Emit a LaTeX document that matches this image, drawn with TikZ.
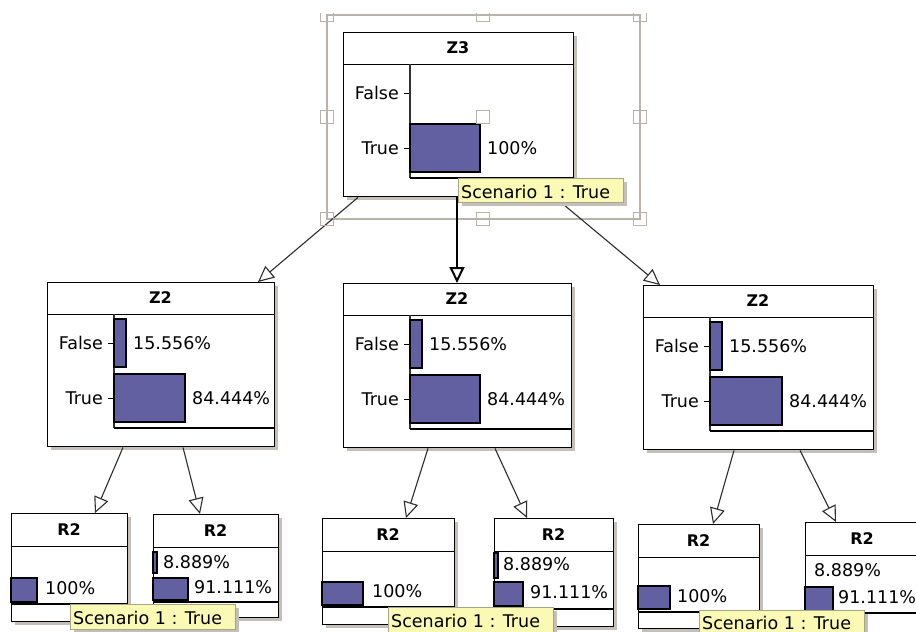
\documentclass[tikz,border=0pt]{standalone}
\usepackage{fontspec}
\setmainfont{DejaVu Sans}
\usetikzlibrary{arrows.meta,calc}

\definecolor{barc}{RGB}{98,96,160}
\definecolor{shadowc}{RGB}{196,191,185}
\definecolor{tipfill}{RGB}{250,250,180}
\definecolor{tipdraw}{RGB}{165,165,135}
\definecolor{selc}{RGB}{185,178,170}
\definecolor{linkc}{RGB}{45,45,45}

\tikzset{
  box/.style={draw=black, fill=white, line width=1.4pt, inner sep=0pt},
  ttl/.style={inner sep=0pt, font=\fontsize{16}{18}\selectfont\bfseries},
  lbl/.style={inner sep=0pt, font=\fontsize{17.5}{20}\selectfont},
  sep/.style={draw=black, line width=1pt},
  axisline/.style={draw=black!80, line width=1.1pt},
  baseline/.style={draw=black, line width=1.8pt},
  tickmark/.style={draw=black, line width=1pt},
  bar/.style={fill=barc, draw=black, line width=1.3pt},
  link/.style={draw=linkc, line width=1.1pt,
    -{Triangle[fill=white, length=16pt, width=15pt]}},
  tipst/.style={draw=tipdraw, fill=tipfill, line width=0.8pt, inner sep=0pt,
    minimum width=165pt},
  handle/.style={draw=selc, line width=1pt},
}

% belief node with a title bar and two state bars
% #1 name, #2 x, #3 y, #4 width, #5 title, #6 false bar, #7 true bar,
% #8 false value, #9 true value
\newcommand\znode[9]{%
  \begin{scope}[shift={(#2,#3)}]
    \fill[shadowc] (4,4) rectangle (#4+4,168);
    \node[box, minimum width=#4, minimum height=164, anchor=north west] (#1) at (0,0) {};
    \node[ttl] (#1-name) at (#4/2,16) {#5};
    \draw[sep] (0,32) -- (#4,32);
    \draw[axisline] (67,32) -- (67,146);
    \draw[baseline] (67,146) -- (#4,146);
    \draw[tickmark] (61,61) -- (65.5,61);
    \draw[tickmark] (61,116) -- (65.5,116);
    \node[lbl, anchor=base east] (#1-f) at (56,67) {False};
    \node[lbl, anchor=base east] (#1-t) at (56,122) {True};
    \ifnum#6>0
      \draw[bar] (67,37) rectangle (67+#6,85);
      \node[lbl, anchor=base west] (#1-fp) at (74+#6,67) {#8};
    \fi
    \draw[bar] (67,92) rectangle (67+#7,140);
    \node[lbl, anchor=base west] (#1-tp) at (74+#7,122) {#9};
  \end{scope}}

% narrow R2 node: #1 name, #2 x, #3 y, #4 width, #5 height, #6 bar floor
\newcommand\rnode[6]{%
  \begin{scope}[shift={(#2,#3)}]
    \fill[shadowc] (4,4) rectangle (#4+4,#5+4);
    \node[box, minimum width=#4, minimum height=#5, anchor=north west] (#1) at (0,0) {};
    \node[ttl] (#1-name) at (#4/2,16.5) {R2};
    \draw[sep] (0,33) -- (#4,33);
    \draw[baseline] (0,#6) -- (#4,#6);
  \end{scope}}

% scenario tooltip: #1 name, #2 x, #3 y, #4 height, #5 text baseline offset
\newcommand\tipbox[5]{%
  \fill[shadowc] (#2+4,#3+4) rectangle (#2+169,#3+#4+4);
  \node[tipst, minimum height=#4, anchor=north west] (#1) at (#2,#3) {};
  \node[lbl, anchor=base west] (#1-txt) at (#2+3,#3+#5) {Scenario 1 : True};}

\begin{document}
\begin{tikzpicture}[x=1pt, y=-1pt]
  \useasboundingbox (0,0) rectangle (916,632);
  \clip (0,0) rectangle (916,632);
  \fill[white] (0,0) rectangle (916,632);

  % selection frame around Z3
  \draw[selc, line width=1.2pt] (327,15) rectangle (640,219);

  % belief nodes
  \znode{zt}{343}{32}{230}{Z3}{0}{70}{}{100\%}
  \znode{zl}{47}{282}{227}{Z2}{12}{71}{15.556\%}{84.444\%}
  \znode{zm}{343}{283}{228}{Z2}{12}{70}{15.556\%}{84.444\%}
  \znode{zr}{643}{285}{230}{Z2}{12}{72}{15.556\%}{84.444\%}

  \rnode{rl1}{11}{513}{116}{108}{91}
  \draw[bar] (11,578) rectangle (37,602);
  \node[lbl, anchor=base west] (rl1-p) at (45,594) {100\%};

  \rnode{rr1}{153}{514}{125}{103}{88}
  \draw[bar] (153,552) rectangle (157,573);
  \node[lbl, anchor=base west] (rr1-p1) at (163,568) {8.889\%};
  \draw[bar] (153,578) rectangle (188,600);
  \node[lbl, anchor=base west] (rr1-p2) at (194,593) {91.111\%};

  \rnode{rl2}{322}{518}{132}{106}{89}
  \draw[bar] (322,582) rectangle (363,605);
  \node[lbl, anchor=base west] (rl2-p) at (372,597) {100\%};

  \rnode{rr2}{494}{518}{119}{108}{91}
  \draw[bar] (494,553) rectangle (498,578);
  \node[lbl, anchor=base west] (rr2-p1) at (503,570) {8.889\%};
  \draw[bar] (494,582) rectangle (523,606);
  \node[lbl, anchor=base west] (rr2-p2) at (530,598) {91.111\%};

  \rnode{rl3}{638}{524}{121}{104}{88}
  \draw[bar] (638,586) rectangle (670,609);
  \node[lbl, anchor=base west] (rl3-p) at (677,602) {100\%};

  \rnode{rr3}{805}{522}{114}{110}{91}
  \node[lbl, anchor=base west] (rr3-p1) at (814,576) {8.889\%};
  \draw[bar] (805,587) rectangle (833,612);
  \node[lbl, anchor=base west] (rr3-p2) at (838,603) {91.111\%};

  % arcs
  \draw[link] ([xshift=15pt]zt.south west) -- ([xshift=211pt]zl.north west);
  \draw[link, draw=black, line width=2pt] ([xshift=114pt]zt.south west) -- ([xshift=114pt]zm.north west);
  \draw[link] ([xshift=212pt]zt.south west) -- ([xshift=17pt]zr.north west);

  \draw[link] ([xshift=76pt]zl.south west) -- ([xshift=84pt]rl1.north west);
  \draw[link] ([xshift=136pt]zl.south west) -- ([xshift=47pt]rr1.north west);
  \draw[link] ([xshift=85pt]zm.south west) -- ([xshift=84pt]rl2.north west);
  \draw[link] ([xshift=152pt]zm.south west) -- ([xshift=33pt]rr2.north west);
  \draw[link] ([xshift=91pt]zr.south west) -- ([xshift=75pt]rl3.north west);
  \draw[link] ([xshift=157pt]zr.south west) -- ([xshift=31pt]rr3.north west);

  % selection handles
  \foreach \hx in {327,483,640} {
    \draw[handle] (\hx-6.5,13) -- (\hx-6.5,21.5) -- (\hx+6.5,21.5) -- (\hx+6.5,13);
    \draw[handle] (\hx-6.5,110.5) rectangle (\hx+6.5,123.5);
    \draw[handle] (\hx-6.5,212.5) rectangle (\hx+6.5,225.5);
  }

  % scenario tooltips
  \tipbox{tip1}{458}{178}{24}{20}
  \tipbox{tip2}{70}{604}{25}{20}
  \tipbox{tip3}{388}{607}{26}{20}
  \tipbox{tip4}{699}{610}{26}{19}
\end{tikzpicture}
\end{document}
